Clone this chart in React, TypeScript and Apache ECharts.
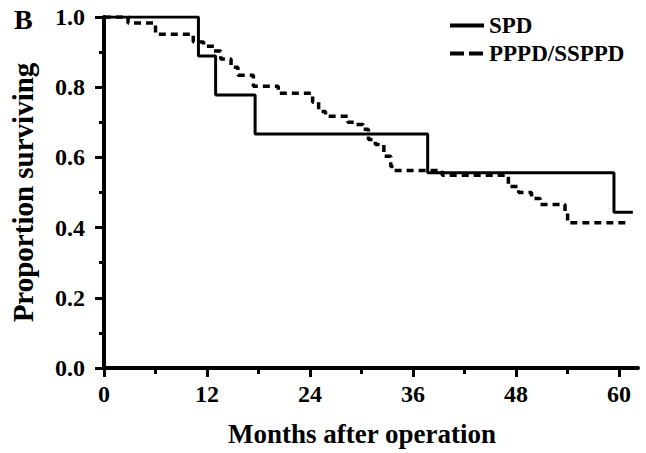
import React, { useEffect, useRef } from "react";
import * as echarts from "echarts";

const spdMonths = [0, 11.0, 13.0, 17.6, 37.7, 59.4, 61.6];
const spdSurv = [1, 0.889, 0.778, 0.667, 0.556, 0.444, 0.444];

const ppMonths = [0, 2.8, 6.0, 10.4, 11.6, 12.8, 13.6, 14.8, 15.6, 17.4, 20.3, 24.3, 25.0, 25.8, 28.4, 29.4, 30.2, 30.8, 31.6, 32.6, 33.4, 33.8, 39.4, 47.1, 48.3, 49.8, 50.8, 53.7, 54.0, 61.3];
const ppSurv = [1, 0.983, 0.951, 0.929, 0.917, 0.903, 0.88, 0.857, 0.834, 0.803, 0.783, 0.757, 0.731, 0.717, 0.7, 0.694, 0.68, 0.651, 0.637, 0.603, 0.574, 0.563, 0.549, 0.517, 0.5, 0.483, 0.466, 0.443, 0.414, 0.414];

const xMajorTicks = [0, 12, 24, 36, 48, 60];
const xMinorTicks = [6, 18, 30, 42, 54];
const seriesNames = ["SPD", "PPPD/SSPPD"];

const FONT = "'Liberation Serif', 'Times New Roman', serif";

export default function App() {
  const ref = useRef<HTMLDivElement>(null);
  useEffect(() => {
    if (!ref.current) return;
    const chart = echarts.init(ref.current, undefined, { renderer: "svg" });
    const axisLine = { show: true, lineStyle: { color: "#000", width: 4 } };
    chart.setOption({
      animation: false,
      backgroundColor: "#fff",
      textStyle: { fontFamily: FONT, fontWeight: "bold", color: "#000" },
      title: {
        text: "B",
        left: 9,
        top: 0,
        textStyle: { fontFamily: FONT, fontWeight: "bold", fontSize: 28, color: "#000" },
      },
      grid: { left: 103, right: 8, top: 17, bottom: 85, containLabel: false },
      legend: {
        orient: "vertical",
        left: 443,
        top: 9,
        itemWidth: 34,
        itemHeight: 14,
        itemGap: 5,
        textStyle: { fontFamily: FONT, fontWeight: "bold", fontSize: 23, color: "#000" },
        data: seriesNames.map((name, i) => ({
          name,
          itemStyle: { opacity: 0 },
          lineStyle: i === 0 ? { type: "solid", width: 4 } : { type: [14, 5], width: 4 },
        })),
      },
      xAxis: [
        {
          type: "value",
          min: 0,
          max: 62.2,
          position: "bottom",
          name: "Months after operation",
          nameLocation: "middle",
          nameGap: 52,
          nameTextStyle: {
            fontFamily: FONT,
            fontWeight: "bold",
            fontSize: 27,
            color: "#000",
            padding: [0, 18, 0, 0],
          },
          axisLine,
          splitLine: { show: false },
          axisTick: { show: true, length: 9, lineStyle: { width: 3, color: "#000" }, customValues: xMajorTicks },
          axisLabel: {
            show: true,
            customValues: xMajorTicks,
            margin: 14,
            fontFamily: FONT,
            fontWeight: "bold",
            fontSize: 24,
            color: "#000",
          },
        },
        {
          type: "value",
          min: 0,
          max: 62.2,
          position: "bottom",
          axisLine: { show: false },
          splitLine: { show: false },
          axisTick: { show: true, length: 6, lineStyle: { width: 3, color: "#000" }, customValues: xMinorTicks },
          axisLabel: { show: false },
        },
      ],
      yAxis: {
        type: "value",
        min: 0,
        max: 1,
        interval: 0.2,
        name: "Proportion surviving",
        nameLocation: "middle",
        nameGap: 67,
        nameRotate: 90,
        nameTextStyle: { fontFamily: FONT, fontWeight: "bold", fontSize: 29, color: "#000" },
        axisLine,
        splitLine: { show: false },
        axisTick: { show: true, length: 9, lineStyle: { width: 3, color: "#000" } },
        minorTick: { show: true, splitNumber: 2, length: 5, lineStyle: { width: 3, color: "#000" } },
        minorSplitLine: { show: false },
        axisLabel: {
          margin: 19,
          formatter: (v: number) => v.toFixed(1),
          fontFamily: FONT,
          fontWeight: "bold",
          fontSize: 24,
          color: "#000",
        },
      },
      series: [
        {
          name: seriesNames[0],
          type: "line",
          step: "end",
          xAxisIndex: 0,
          symbol: "none",
          lineStyle: { color: "#000", width: 3, type: "solid" },
          itemStyle: { color: "#000" },
          data: spdMonths.map((m, i) => [m, spdSurv[i]]),
          z: 3,
        },
        {
          name: seriesNames[1],
          type: "line",
          step: "end",
          xAxisIndex: 0,
          symbol: "none",
          lineStyle: { color: "#000", width: 3.5, type: [7, 5] },
          itemStyle: { color: "#000" },
          data: ppMonths.map((m, i) => [m, ppSurv[i]]),
          z: 2,
        },
      ],
    });
    return () => chart.dispose();
  }, []);
  return (
    <div
      ref={ref}
      style={{ position: "fixed", left: 0, top: 0, width: 646, height: 453, background: "#fff" }}
    />
  );
}
